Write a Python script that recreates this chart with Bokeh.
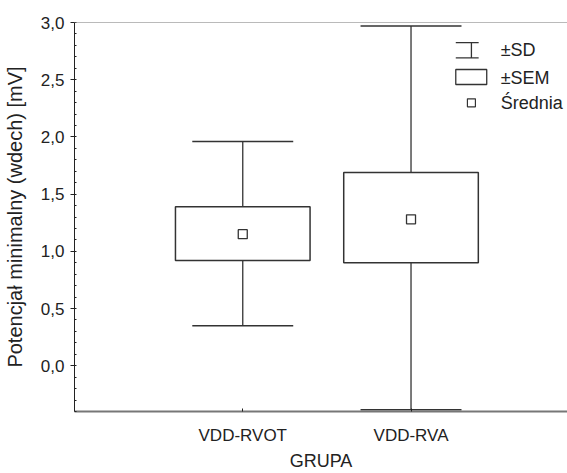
import numpy as np
from bokeh.plotting import figure
from bokeh.models import (Range1d, FixedTicker, CustomJSTickFormatter, Span, Label,
                          ColumnDataSource)
from bokeh.embed import file_html
from bokeh.resources import INLINE

# ---- data ----
categories = ["VDD-RVOT", "VDD-RVA"]
means = [1.15, 1.28]
sem_low = [0.92, 0.90]
sem_high = [1.39, 1.69]
sd_low = [0.35, -0.385]
sd_high = [1.96, 2.97]
y_ticks = [0.0, 0.5, 1.0, 1.5, 2.0, 2.5, 3.0]
legend_labels = ["±SD", "±SEM", "Średnia"]

FONT = "Liberation Sans"
DARK = "#333333"

xpos = [i + 1 for i in range(len(categories))]
BOX_HALF = 0.40
CAP_HALF = 0.30

src = ColumnDataSource(dict(
    x=xpos, mean=means, sem_low=sem_low, sem_high=sem_high,
    sd_low=sd_low, sd_high=sd_high,
    box_l=[x - BOX_HALF for x in xpos], box_r=[x + BOX_HALF for x in xpos],
    cap_l=[x - CAP_HALF for x in xpos], cap_r=[x + CAP_HALF for x in xpos],
))

p = figure(width=567, height=473, output_backend="svg", toolbar_location=None,
           x_range=Range1d(0, 2.93), y_range=Range1d(-0.40, 3.0),
           min_border_left=73, min_border_top=22, min_border_bottom=61, min_border_right=0)
p.outline_line_color = None
p.xgrid.visible = False
p.ygrid.visible = False
p.background_fill_color = "white"

# whiskers (SD)
p.segment(x0="x", x1="x", y0="sd_low", y1="sem_low", source=src, line_color=DARK, line_width=1.3)
p.segment(x0="x", x1="x", y0="sem_high", y1="sd_high", source=src, line_color=DARK, line_width=1.3)
p.segment(x0="cap_l", x1="cap_r", y0="sd_low", y1="sd_low", source=src, line_color=DARK, line_width=1.5)
p.segment(x0="cap_l", x1="cap_r", y0="sd_high", y1="sd_high", source=src, line_color=DARK, line_width=1.5)
# boxes (SEM)
p.quad(left="box_l", right="box_r", bottom="sem_low", top="sem_high", source=src,
       fill_color="white", line_color=DARK, line_width=1.5)
# mean
p.scatter(x="x", y="mean", source=src, marker="square", size=9,
          fill_color="white", line_color=DARK, line_width=1.3)

# top border line
p.add_layout(Span(location=3.0, dimension="width", line_color="#777777", line_width=1.2))

# legend (drawn manually)
lx0, lx1, lxm = 2.266, 2.402, 2.359
p.segment(x0=[lx0, lx0, lxm], x1=[lx1, lx1, lxm], y0=[2.824, 2.690, 2.690], y1=[2.824, 2.690, 2.824],
          line_color=DARK, line_width=1.3)
p.quad(left=[lx0], right=[2.450], bottom=[2.458], top=[2.589], fill_color="white",
       line_color=DARK, line_width=1.3)
p.scatter(x=[lxm], y=[2.298], marker="square", size=8, fill_color="white", line_color=DARK, line_width=1.2)
for lab, ly in zip(legend_labels, [2.757, 2.519, 2.293]):
    p.add_layout(Label(x=2.533, y=ly, text=lab, text_font=FONT, text_font_size="18px",
                       text_baseline="middle", text_color="#222222"))

# axes
p.xaxis.ticker = FixedTicker(ticks=xpos)
p.xaxis.major_label_overrides = {x: c for x, c in zip(xpos, categories)}
p.xaxis.axis_label = "GRUPA"
p.xaxis.axis_line_color = "#777777"
p.xaxis.axis_line_width = 2
p.xaxis.major_tick_in = 3
p.xaxis.major_tick_out = 0
p.xaxis.major_label_standoff = 14
p.xaxis.axis_label_standoff = 3

p.yaxis.ticker = FixedTicker(ticks=y_ticks, minor_ticks=list(np.round(np.arange(-0.4, 3.001, 0.1), 2)))
p.yaxis.formatter = CustomJSTickFormatter(code="return tick.toFixed(1).replace('.', ',');")
p.yaxis.axis_label = "Potencjał minimalny (wdech) [mV]"
p.yaxis.axis_line_color = "#222222"
p.yaxis.major_tick_out = 4
p.yaxis.major_tick_in = 0
p.yaxis.minor_tick_in = 2
p.yaxis.minor_tick_out = 0
p.yaxis.major_label_standoff = 6
p.yaxis.axis_label_standoff = 12

for ax in (p.xaxis, p.yaxis):
    ax.major_label_text_font = FONT
    ax.axis_label_text_font = FONT
    ax.axis_label_text_font_style = "normal"
    ax.major_label_text_color = "#222222"
    ax.axis_label_text_color = "#222222"
    ax.major_tick_line_color = "#222222"
    ax.minor_tick_line_color = "#222222"
p.xaxis.minor_tick_line_color = None
p.yaxis.major_label_text_font_size = "17px"
p.xaxis.major_label_text_font_size = "17px"
p.xaxis.axis_label_text_font_size = "18px"
p.yaxis.axis_label_text_font_size = "20px"

open("out.html", "w").write(file_html(p, INLINE))
